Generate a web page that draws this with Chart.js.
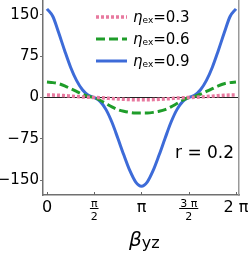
<!DOCTYPE html>
<html>
<head>
<meta charset="utf-8">
<script src="https://cdn.jsdelivr.net/npm/chart.js@4/dist/chart.umd.min.js"></script>
<style>
html,body{margin:0;padding:0;background:#fff;}
#wrap{width:252px;height:256px;position:relative;}
</style>
</head>
<body>
<div id="wrap"><canvas id="c"></canvas></div>
<script>
// beta_yz in units of pi
const xPi = [0,0.0625,0.125,0.1875,0.25,0.3125,0.375,0.4375,0.5,0.5625,0.625,0.6875,0.75,0.8125,0.875,0.9375,1,
             1.0625,1.125,1.1875,1.25,1.3125,1.375,1.4375,1.5,1.5625,1.625,1.6875,1.75,1.8125,1.875,1.9375,2];
const eta03 = [4.5,4.4,4,3.3,2.5,1.7,1,0.4,0,-0.4,-1.1,-1.9,-2.6,-3.3,-3.8,-4,-4,
               -4,-3.8,-3.3,-2.6,-1.9,-1.1,-0.4,0,0.4,1,1.7,2.5,3.3,4,4.4,4.5];
const eta06 = [28,27,25,21,16,11,6,2,0,-5,-11,-17,-22,-25,-27,-28,-28,
               -28,-27,-25,-22,-17,-11,-5,0,2,6,11,16,21,25,27,28];
const eta09 = [161,147,117,85,55,31,14,4,0,-7,-22,-45,-74,-104,-132,-153,-161,
               -153,-132,-104,-74,-45,-22,-7,0,4,14,31,55,85,117,147,161];
const seriesNames = ['0.3','0.6','0.9'];
const yTicks = [-150,-75,0,75,150];
const yTickLabels = ['\u2212150','\u221275','0','75','150'];
const xTicks = [0,0.5,1,1.5,2];
const xTickLabels = ['0',['\u03c0','2'],'\u03c0',['3 \u03c0','2'],'2 \u03c0'];
const annotationText = 'r = 0.2';

const FONT = "'DejaVu Sans', sans-serif";
const pts = arr => arr.map((v,i)=>({x:xPi[i], y:v}));

const styles = [
  {color:'#e8799f', width:3.5, dash:[3,2]},
  {color:'#1f9d2a', width:3, dash:[9,4]},
  {color:'#3d6bd8', width:3, dash:[]}
];
const allSeries = [eta03, eta06, eta09];

const noPad = s => { s.paddingTop = 0; s.paddingBottom = 0; s.paddingLeft = 0; s.paddingRight = 0; };

const deco = {
  id:'deco',
  afterDraw(chart){
    const {ctx, chartArea:ca, scales:{x}} = chart;
    ctx.save();
    // inside tick marks on x axis
    ctx.strokeStyle='#666'; ctx.lineWidth=1;
    xTicks.forEach(v=>{
      const px=Math.round(x.getPixelForValue(v))+0.5;
      ctx.beginPath(); ctx.moveTo(px, ca.bottom); ctx.lineTo(px, ca.bottom-3); ctx.stroke();
    });
    // fraction bars
    ctx.strokeStyle='#000';
    xTickLabels.forEach((l,i)=>{
      if(Array.isArray(l)){
        const px=x.getPixelForValue(xTicks[i]);
        ctx.font='11px '+FONT;
        const w=ctx.measureText(l[0]).width+2;
        ctx.beginPath(); ctx.moveTo(px-w/2, ca.bottom+13.5); ctx.lineTo(px+w/2, ca.bottom+13.5); ctx.stroke();
      }
    });
    // legend
    chart.data.datasets.forEach((ds,i)=>{
      const cy = 17 + 22*i;
      ctx.save();
      ctx.strokeStyle = ds.borderColor; ctx.lineWidth = ds.borderWidth;
      ctx.setLineDash(ds.borderDash||[]); ctx.lineCap='butt';
      ctx.beginPath(); ctx.moveTo(96, cy); ctx.lineTo(127, cy); ctx.stroke();
      ctx.restore();
      ctx.fillStyle='#000'; ctx.textBaseline='alphabetic'; ctx.textAlign='left';
      let tx = 133;
      ctx.font='italic 15px '+FONT;
      ctx.fillText('\u03b7', tx, cy+5); tx += ctx.measureText('\u03b7').width;
      ctx.font='9px '+FONT;
      ctx.fillText('ex', tx, cy+6); tx += ctx.measureText('ex').width;
      ctx.font='15px '+FONT;
      ctx.fillText('='+seriesNames[i], tx, cy+5);
    });
    // annotation
    ctx.font='17px '+FONT; ctx.fillStyle='#000';
    ctx.fillText(annotationText, 175, 158);
    // axis title
    ctx.font='italic 20px '+FONT;
    ctx.fillText('\u03b2', 129, 246);
    const bw = ctx.measureText('\u03b2').width;
    ctx.font='16px '+FONT;
    ctx.fillText('yz', 129+bw, 248);
    ctx.restore();
  }
};

new Chart(document.getElementById('c'), {
  type:'line',
  data:{
    datasets: allSeries.map((s,i)=>({
      label:'\u03b7ex='+seriesNames[i],
      data: pts(s),
      borderColor: styles[i].color,
      borderWidth: styles[i].width,
      borderDash: styles[i].dash,
      borderCapStyle:'butt',
      pointRadius:0,
      fill:false,
      cubicInterpolationMode:'monotone'
    }))
  },
  options:{
    responsive:true, maintainAspectRatio:false, animation:false,
    devicePixelRatio:1,
    layout:{padding:0},
    plugins:{legend:{display:false}, tooltip:{enabled:false}},
    scales:{
      x:{
        type:'linear', min:-0.042, max:2.032,
        afterBuildTicks: s => { s.ticks = xTicks.map(v=>({value:v})); },
        afterFit: s => { s.height = 61; noPad(s); },
        grid:{display:true, drawOnChartArea:false, drawTicks:false},
        border:{display:true, color:'#707070', width:1.5},
        ticks:{
          padding:3.5, maxRotation:0, autoSkip:false, color:'#000',
          callback:(v,i)=>xTickLabels[i],
          font: c => Array.isArray(xTickLabels[c.index]) ? {family:FONT, size:11, lineHeight:1.1} : {family:FONT, size:16, lineHeight:1.2}
        }
      },
      y:{
        type:'linear', min:-177, max:177,
        afterBuildTicks: s => { s.ticks = yTicks.map(v=>({value:v})); },
        afterFit: s => { s.width = 43; noPad(s); },
        grid:{
          drawOnChartArea:true, drawTicks:true, tickLength:3,
          color: c => (c.tick && c.tick.value===0) ? '#222' : 'rgba(0,0,0,0)',
          tickColor:'#707070', lineWidth:1
        },
        border:{display:true, color:'#707070', width:1.5},
        ticks:{
          padding:1, color:'#000',
          callback:(v,i)=>yTickLabels[i],
          font:{family:FONT, size:15}
        }
      },
      y2:{
        type:'linear', position:'right', min:-177, max:177,
        afterFit: s => { s.width = 13; noPad(s); },
        grid:{drawOnChartArea:false, drawTicks:false},
        border:{display:true, color:'#999', width:1.5},
        ticks:{display:false}
      }
    }
  },
  plugins:[deco]
});
</script>
</body>
</html>
